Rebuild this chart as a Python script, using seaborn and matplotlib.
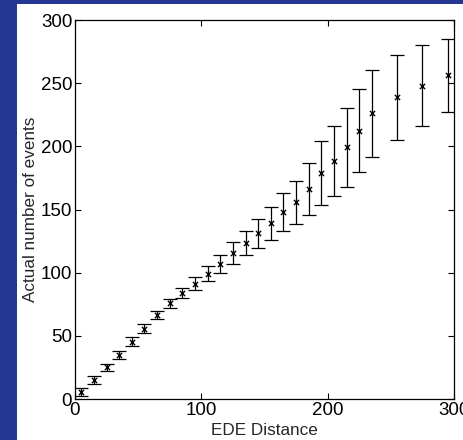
import numpy as np
import pandas as pd
import matplotlib
matplotlib.use("Agg")
import matplotlib.pyplot as plt
import seaborn as sns
from matplotlib.patches import Rectangle

# EDE distance bins (x) and the mean number of events observed in each
ede_distance = [5, 15, 25, 35, 45, 55, 65, 75, 85, 95, 105, 115, 125, 135,
                145, 155, 165, 175, 185, 195, 205, 215, 225, 235, 255, 275, 295]
actual_events = [5.5, 15, 25, 35, 45.4, 55.7, 66.3, 75.7, 83.7, 91.4, 99.3, 107,
                 115.3, 123.5, 131.2, 139.1, 148.3, 155.7, 166.2, 178.7, 188.4,
                 199.3, 212.4, 226.1, 238.8, 248.1, 256.2]
# half-width of the error bar on each point
event_spread = [3, 3, 3, 3, 3.4, 3.5, 3.3, 3.7, 4.1, 4.9, 5.9, 7.3, 8.6, 9.8,
                11.6, 13.2, 15, 17, 20.8, 25.2, 27.9, 31.1, 33.1, 34.3, 33.7,
                31.8, 29.1]

x_ticks = [0, 100, 200, 300]
y_ticks = [0, 50, 100, 150, 200, 250, 300]

df = pd.DataFrame({"EDE Distance": ede_distance,
                   "Actual number of events": actual_events,
                   "spread": event_spread})

sns.set_theme(style="ticks")
plt.rcParams["font.family"] = ["Liberation Sans", "DejaVu Sans"]

W, H = 464, 440
fig = plt.figure(figsize=(W / 100, H / 100), dpi=100)
fig.patch.set_facecolor("#263792")
# white sheet behind the plot
fig.patches.append(Rectangle((17 / W, 0), 1 - 17 / W, (H - 4) / H,
                             transform=fig.transFigure, facecolor="white",
                             edgecolor="none", zorder=-5))

ax = fig.add_axes([75 / W, (H - 399) / H, (454 - 75) / W, (399 - 20) / H])
ax.set_facecolor("white")

ax.errorbar(df["EDE Distance"], df["Actual number of events"], yerr=df["spread"],
            fmt="none", ecolor="black", elinewidth=0.9, capsize=5.2,
            capthick=0.9, zorder=2)
sns.scatterplot(data=df, x="EDE Distance", y="Actual number of events",
                marker="x", color="black", s=14, linewidth=1.0, ax=ax,
                zorder=3)

ax.set_xlim(0, 300)
ax.set_ylim(0, 300)
ax.set_xticks(x_ticks)
ax.set_yticks(y_ticks)
ax.tick_params(direction="in", length=4, width=0.8, top=True, right=True,
               labelsize=13.5, pad=2, colors="black")
for s in ax.spines.values():
    s.set_visible(True)
    s.set_linewidth(0.9)
    s.set_color("black")

ax.set_xlabel("EDE Distance", fontsize=12.3, labelpad=3)
ax.set_ylabel("Actual number of events", fontsize=12.3, labelpad=2)

fig.savefig("out.png", dpi=100, facecolor=fig.get_facecolor())
